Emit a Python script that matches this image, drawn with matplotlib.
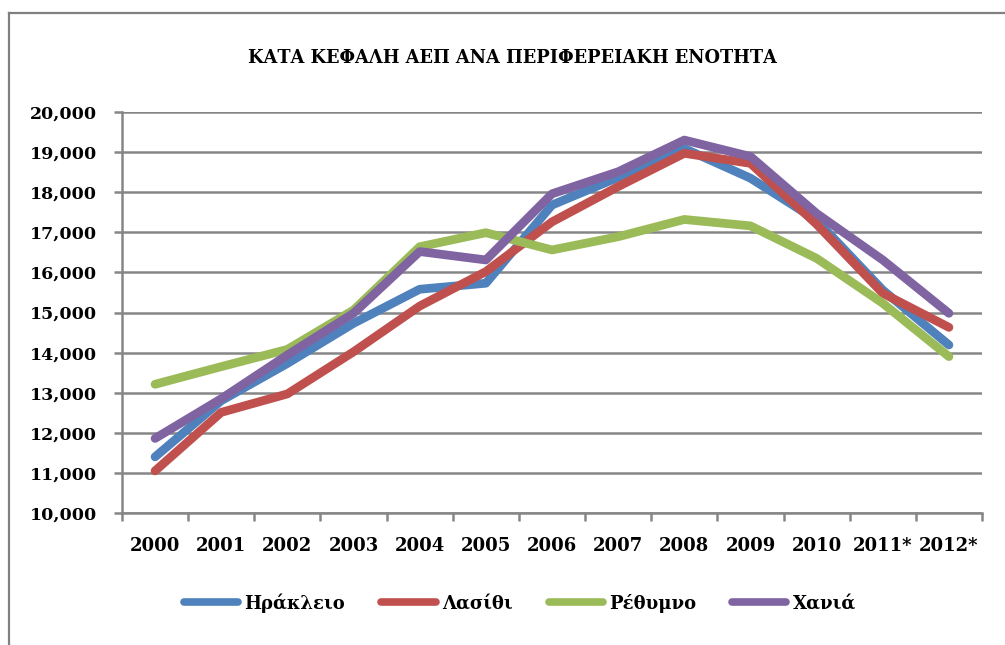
import matplotlib
matplotlib.use("Agg")
import matplotlib.pyplot as plt
from matplotlib.lines import Line2D
import numpy as np

years = ["2000", "2001", "2002", "2003", "2004", "2005", "2006", "2007",
         "2008", "2009", "2010", "2011*", "2012*"]
heraklio = [11400, 12800, 13730, 14730, 15580, 15730, 17680, 18370, 19090, 18350, 17300, 15560, 14190]
lasithi = [11050, 12510, 12970, 14020, 15160, 16020, 17260, 18140, 18970, 18720, 17200, 15480, 14630]
rethymno = [13210, 13650, 14080, 15060, 16640, 16990, 16560, 16890, 17320, 17160, 16350, 15230, 13900]
chania = [11860, 12850, 13940, 14980, 16520, 16310, 17960, 18510, 19300, 18890, 17470, 16310, 14980]
series_names = ["Ηράκλειο", "Λασίθι", "Ρέθυμνο", "Χανιά"]
colors = ["#4F81BD", "#C0504D", "#9BBB59", "#8064A2"]
title = "ΚΑΤΑ ΚΕΦΑΛΗ ΑΕΠ ΑΝΑ ΠΕΡΙΦΕΡΕΙΑΚΗ ΕΝΟΤΗΤΑ"

FONT = "DejaVu Serif"
GRID = "#868686"

fig = plt.figure(figsize=(10.05, 6.45), dpi=100)
ax = fig.add_axes([122/1005, 1-513/645, (982-122)/1005, (513-112)/645])

x = np.arange(len(years))
for vals, name, c in zip([heraklio, lasithi, rethymno, chania], series_names, colors):
    ax.plot(x, vals, color=c, lw=6.3, label=name, solid_capstyle="round",
            solid_joinstyle="round")

ax.set_ylim(10000, 20000)
ax.set_xlim(-0.5, len(years) - 0.5)
ax.set_yticks(np.arange(10000, 20001, 1000))
ax.set_yticklabels([f"{v:,}" for v in range(10000, 20001, 1000)],
                   fontfamily=FONT, fontweight="bold", fontsize=12.5)
ax.yaxis.grid(True, color=GRID, lw=1.8)
ax.set_axisbelow(True)

ax.set_xticks(np.arange(-0.5, len(years), 1.0))
ax.set_xticklabels([])
ax.set_xticks(x, minor=True)
ax.set_xticklabels(years, minor=True, fontfamily=FONT, fontweight="bold", fontsize=13)
ax.tick_params(axis="x", which="minor", length=0, pad=17)
ax.tick_params(axis="x", which="major", length=6, width=1.8, color=GRID, direction="out")
ax.tick_params(axis="y", length=6, width=1.8, color=GRID, pad=12)

for s in ["top", "right"]:
    ax.spines[s].set_visible(False)
for s in ["left", "bottom"]:
    ax.spines[s].set_color(GRID)
    ax.spines[s].set_linewidth(1.8)

fig.text(512/1005, 1-58/645, title, ha="center", va="center",
         fontfamily=FONT, fontweight="bold", fontsize=12.8)

leg = fig.legend(loc="center", bbox_to_anchor=(520/1005, 1-603/645), ncol=4,
                 frameon=False, handlelength=3.0, handletextpad=0.35, columnspacing=2.0,
                 prop={"family": FONT, "weight": "bold", "size": 13})
for h in leg.get_lines():
    h.set_linewidth(5.5)
    h.set_solid_capstyle("round")

# outer frame
fig.add_artist(Line2D([9/1005, 9/1005], [0, 1-12.7/645], transform=fig.transFigure,
                      color="#808080", lw=1.6))
fig.add_artist(Line2D([9/1005, 1], [1-12.7/645, 1-12.7/645], transform=fig.transFigure,
                      color="#808080", lw=1.6))

fig.savefig("out.png", dpi=100)
